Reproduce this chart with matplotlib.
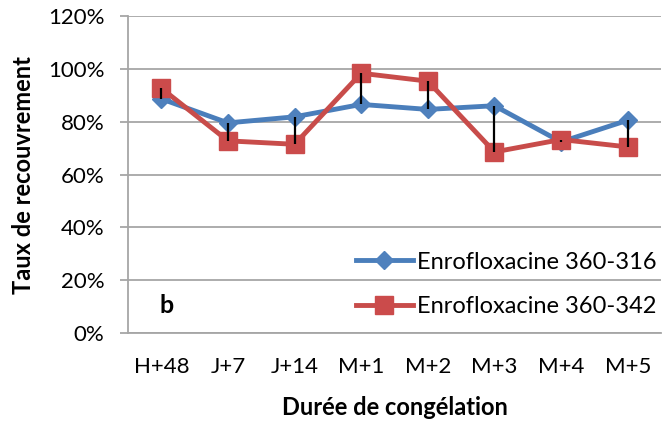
import matplotlib.pyplot as plt
from matplotlib.ticker import PercentFormatter

plt.rcParams['font.family'] = ['Lato', 'DejaVu Sans']

# Data
categories = ['H+48', 'J+7', 'J+14', 'M+1', 'M+2', 'M+3', 'M+4', 'M+5']
enro_316 = [88.7, 79.6, 81.9, 86.6, 84.7, 86.1, 72.4, 80.6]
enro_342 = [92.7, 72.8, 71.5, 98.4, 95.4, 68.6, 73.3, 70.5]

x = list(range(len(categories)))

fig = plt.figure(figsize=(6.67, 4.26), dpi=100)
ax = fig.add_axes([0.192, 0.218, 0.799, 0.744])

ax.plot(x, enro_316, color='#4A7EBB', lw=3.5, marker='D', ms=9,
        mfc='#4F81BD', mec='#4F81BD', label='Enrofloxacine 360-316', zorder=3)
ax.plot(x, enro_342, color='#C84C4A', lw=3.5, marker='s', ms=13,
        mfc='#CB4B4B', mec='#CB4B4B', label='Enrofloxacine 360-342', zorder=4)

# high-low lines
lows = [min(a, b) for a, b in zip(enro_316, enro_342)]
highs = [max(a, b) for a, b in zip(enro_316, enro_342)]
ax.vlines(x, lows, highs, colors='black', lw=1.6, zorder=5)

ax.set_xlim(-0.5, len(categories) - 0.5)
ax.set_ylim(0, 120)
ax.set_yticks(range(0, 121, 20))
ax.yaxis.set_major_formatter(PercentFormatter(decimals=0))
ax.set_xticks(x)
ax.set_xticklabels(categories)

ax.grid(axis='y', color='#A6A6A6', lw=1.3)
ax.set_axisbelow(True)
for s in ['top', 'right']:
    ax.spines[s].set_visible(False)
for s in ['left', 'bottom']:
    ax.spines[s].set_color('#A6A6A6')
    ax.spines[s].set_linewidth(1.3)

ax.tick_params(axis='y', length=6, width=1.3, color='#A6A6A6', pad=11,
               labelsize=16)
ax.tick_params(axis='x', length=0, pad=17, labelsize=16)

ax.set_xlabel('Durée de congélation', fontsize=17, fontweight='bold', labelpad=14)
ax.set_ylabel('Taux de recouvrement', fontsize=17, fontweight='bold', labelpad=9)

ax.text(0.072, 0.088, 'b', transform=ax.transAxes, fontsize=18,
        fontweight='bold', ha='center', va='center')

ax.legend(loc='lower right', bbox_to_anchor=(1.0, 0.035), frameon=False,
          fontsize=17, handlelength=2.4, handletextpad=0.17, labelspacing=1.0,
          borderaxespad=0, borderpad=0.2)

fig.savefig('out.png', dpi=100)
